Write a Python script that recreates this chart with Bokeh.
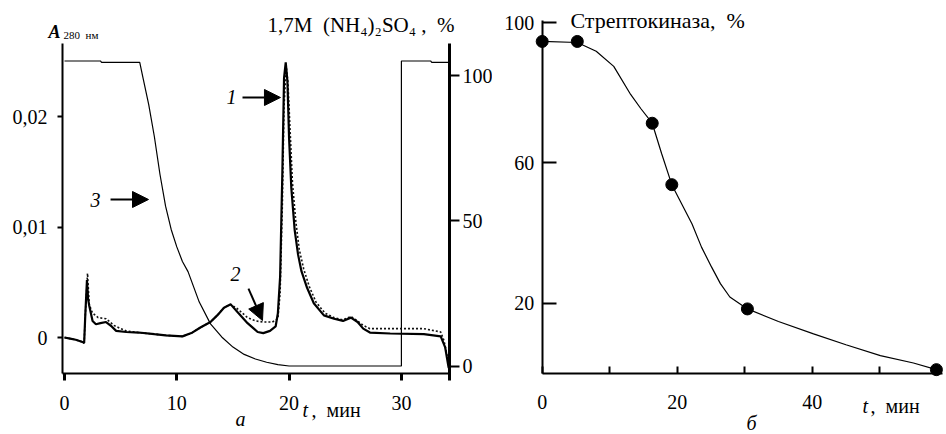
from bokeh.plotting import figure
from bokeh.models import (Range1d, LinearAxis, FixedTicker, CustomJSTickFormatter,
                          Label, Arrow, NormalHead)
from bokeh.layouts import row
from bokeh.embed import file_html
from bokeh.resources import INLINE

SERIF = "Liberation Serif"
NB = "\u00a0"

# ---------------- data: panel a ----------------
c1_t = [0, 0.5, 1.0, 1.6, 1.75, 1.85, 2.0, 2.1, 2.2, 2.5, 2.8, 3.2, 3.7, 4.2, 4.6,
        5.5, 6.6, 8.0, 9.0, 10.5, 11.3, 12.1, 13.0, 13.6, 14.2, 14.8, 15.4, 16.3, 17.2,
        17.7, 18.3, 18.8, 19.0, 19.2, 19.4, 19.55, 19.7, 19.85, 20.0, 20.2, 20.5, 20.8,
        21.1, 21.6, 22.2, 23.1, 24.0, 24.8, 25.5, 26.1, 26.6, 27.2, 29.0, 32.0, 33.5,
        33.9, 34.2, 34.3]
c1_a = [0.0, -0.0001, -0.0002, -0.0004, -0.0005, 0.002, 0.0052, 0.0035, 0.0029, 0.0015,
        0.0012, 0.0013, 0.0014, 0.001, 0.0006, 0.0005, 0.00045, 0.0003, 0.0002, 0.0001,
        0.0004, 0.0009, 0.0014, 0.002, 0.0027, 0.003, 0.0023, 0.0013, 0.0005, 0.0004,
        0.0006, 0.001, 0.0022, 0.0055, 0.015, 0.0235, 0.0249, 0.0232, 0.018, 0.0135,
        0.0097, 0.0075, 0.006, 0.0045, 0.0031, 0.002, 0.0017, 0.0015, 0.0018, 0.0014,
        0.0008, 0.00045, 0.00036, 0.0003, 0.0001, -0.0009, -0.0027, -0.0029]

c2_t = [0, 0.5, 1.0, 1.6, 1.75, 1.85, 2.05, 2.2, 2.5, 3.0, 3.7, 4.4, 5.0, 5.5, 6.6,
        8.0, 9.0, 10.5, 11.3, 12.1, 13.0, 13.6, 14.2, 14.8, 15.4, 16.3, 17.0, 17.7, 18.5,
        19.0, 19.2, 19.4, 19.55, 19.75, 19.9, 20.1, 20.3, 20.6, 20.9, 21.3, 21.8, 22.4,
        23.2, 24.0, 24.8, 25.5, 26.1, 26.6, 27.2, 29.0, 32.0, 33.5, 33.8, 34.1, 34.3]
c2_a = [0.0, -0.0001, -0.0002, -0.0004, -0.0005, 0.002, 0.0058, 0.003, 0.0022, 0.0018,
        0.0017, 0.0011, 0.0008, 0.0006, 0.00045, 0.0003, 0.0002, 0.0001, 0.0004, 0.0009,
        0.0014, 0.002, 0.0027, 0.003, 0.0026, 0.0018, 0.0015, 0.0014, 0.0014, 0.0017,
        0.004, 0.012, 0.021, 0.0245, 0.023, 0.0185, 0.014, 0.0105, 0.008, 0.0062,
        0.0046, 0.0032, 0.0022, 0.0018, 0.0016, 0.0019, 0.0015, 0.0011, 0.0008, 0.0008,
        0.0008, 0.0005, -0.0003, -0.0018, -0.0027]

c3_t = [0, 3.2, 3.3, 6.7, 7.0, 7.5, 8.0, 8.5, 9.0, 9.5, 10.0, 10.5, 11.0, 12.0, 13.0,
        14.0, 15.0, 16.0, 17.0, 18.0, 19.0, 20.0, 30.0, 30.0, 32.6, 32.7, 34.3]
c3_pct = [105, 105, 104.5, 104.5, 99, 90, 79, 66, 55, 47, 41, 36, 32.5, 22, 14.5,
          10, 6.5, 4, 2.4, 1.3, 0.5, 0, 0, 105, 105, 104.5, 104.5]

a_x_ticks = [0, 10, 20, 30]
a_y_ticks = [0, 0.01, 0.02]
a_pct_ticks = [0, 50, 100]

# ---------------- data: panel b ----------------
pts_t = [0, 5.2, 16.3, 19.2, 30.4, 58.4]
pts_v = [94.6, 94.6, 71.3, 53.8, 18.4, 1.1]
fit_t = [0, 5.2, 8.0, 10.6, 13.1, 14.6, 16.3, 17.7, 19.2, 22.2, 23.6, 25.1, 26.4,
         27.8, 30.4, 35.0, 40.2, 45.0, 50.1, 55.0, 58.4]
fit_v = [94.6, 94.3, 91.8, 87.5, 79.5, 75.5, 71.3, 62.6, 53.8, 42.6, 36.0, 30.3, 25.6,
         21.8, 18.4, 14.8, 11.3, 8.2, 5.1, 3.0, 1.1]
b_x_ticks = [0, 20, 40]
b_x_minor = [10, 30, 50]
b_y_ticks = [20, 60, 100]


def label(p, x, y, text, size="20px", style="normal", align="left", **kw):
    p.add_layout(Label(x=x, y=y, text=text, text_font=SERIF, text_font_size=size,
                       text_font_style=style, text_align=align, text_baseline="middle",
                       text_color="black", **kw))


def make_axis(loc, ticks, minor=(), tick_out=0, tick_in=0, minor_in=0, standoff=5,
              line_w=2, tick_w=2, bounds="auto", **kw):
    ax = LinearAxis(ticker=FixedTicker(ticks=list(ticks), minor_ticks=list(minor)),
                    fixed_location=loc, bounds=bounds, **kw)
    ax.major_label_text_font = SERIF
    ax.major_label_text_font_size = "20px"
    ax.major_label_text_color = "black"
    ax.axis_line_color = "black"
    ax.axis_line_width = line_w
    ax.major_tick_line_color = "black"
    ax.major_tick_line_width = tick_w
    ax.major_tick_out = tick_out
    ax.major_tick_in = tick_in
    ax.minor_tick_line_color = "black" if minor else None
    ax.minor_tick_line_width = tick_w
    ax.minor_tick_in = minor_in
    ax.minor_tick_out = 0
    ax.major_label_standoff = standoff
    return ax


def base_fig(w, h, xr, yr):
    p = figure(width=w, height=h, x_range=Range1d(*xr), y_range=Range1d(*yr),
               x_axis_location=None, y_axis_location=None,
               min_border_left=0, min_border_right=0, min_border_top=0, min_border_bottom=0,
               toolbar_location=None, output_backend="svg", outline_line_color=None)
    p.xgrid.grid_line_color = None
    p.ygrid.grid_line_color = None
    return p


# ================= panel a =================
p1 = base_fig(492, 434, (-5.699, 38.112), (-0.008778, 0.030498))
p1.extra_y_ranges = {"pct": Range1d(-23.58, 125.818)}

p1.add_layout(make_axis(-0.003258, a_x_ticks, tick_out=7, tick_w=3, standoff=15,
                        bounds=(-0.18, 34.283)), "below")
p1.add_layout(make_axis(-0.18, a_y_ticks, tick_out=5, standoff=10,
                        bounds=(-0.003258, 0.026606),
                        formatter=CustomJSTickFormatter(
                            code="return tick == 0 ? '0' : tick.toFixed(2).replace('.', ',')")),
              "left")
p1.add_layout(make_axis(34.283, a_pct_ticks, tick_out=10, standoff=3, line_w=3,
                        bounds=(-5.0, 111.0), y_range_name="pct"), "right")

p1.line(c3_t, c3_pct, y_range_name="pct", line_width=1.2, color="black")
p1.line(c2_t, c2_a, line_dash="2 2", line_width=1.6, color="#111111")
p1.line(c1_t, c1_a, line_width=2.2, color="black")

label(p1, -1.425, 0.02769, "A", size="18px", style="bold italic")
label(p1, -0.089, 0.02742, "280" + NB + NB + "нм", size="11px")
label(p1, 18.08, 0.02824,
      "1,7M" + NB + NB + "(NH₄)₂SO₄" + NB + "," + NB + NB + "%", size="21px")
label(p1, 21.19, -0.006606, "t", style="italic")
label(p1, 22.0, -0.006606, "," + NB + " мин")
label(p1, 15.67, -0.00742, "а", style="italic", align="center")
label(p1, 14.87, 0.02172, "1", style="italic", align="center")
label(p1, 15.23, 0.00579, "2", style="italic", align="center")
label(p1, 2.76, 0.0124, "3", style="italic", align="center")

for xs, ys, xe, ye in [(15.85, 0.02172, 19.23, 0.02172),
                       (4.10, 0.01249, 7.48, 0.01249),
                       (16.38, 0.00443, 17.63, 0.00154)]:
    p1.add_layout(Arrow(x_start=xs, y_start=ys, x_end=xe, y_end=ye, line_width=2,
                        line_color="black",
                        end=NormalHead(size=16, fill_color="black", line_color="black")))

# ================= panel b =================
p2 = base_fig(454, 434, (-7.363, 59.896), (-17.379, 106.268))

p2.add_layout(make_axis(0, b_y_ticks, tick_in=14, standoff=8, bounds=(0, 100.57)), "left")
p2.add_layout(make_axis(0, b_x_ticks, minor=b_x_minor, tick_in=7, minor_in=7, standoff=22,
                        bounds=(0, 59.3)), "below")

p2.line(fit_t, fit_v, line_width=1.2, color="black")
p2.scatter(pts_t, pts_v, size=12, color="black")

label(p2, 4.19, 100.57, "Стрептокиназа," + NB + " %", size="22px")
label(p2, 47.45, -9.12, "t", style="italic")
label(p2, 48.64, -9.12, "," + NB + " мин")
label(p2, 31.0, -14.0, "б", style="italic", align="center")

layout = row(p1, p2)
open("out.html", "w").write(file_html(layout, INLINE))
